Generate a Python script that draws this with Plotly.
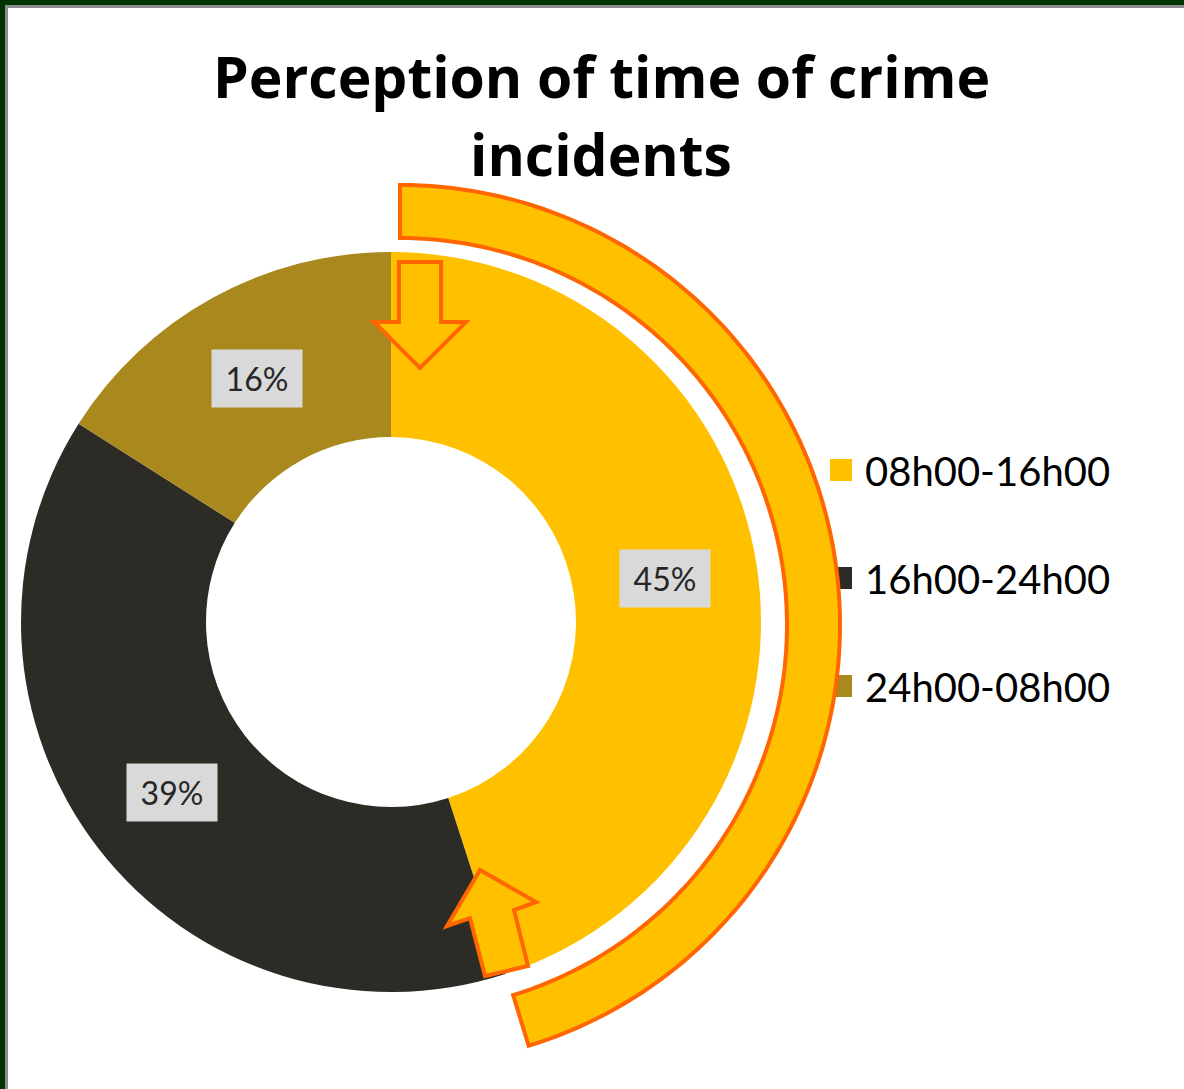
import math
import plotly.graph_objects as go

# ---- data ----
categories = ["08h00-16h00", "16h00-24h00", "24h00-08h00"]
values = [45, 39, 16]
label_text = ["45%", "39%", "16%"]
title_lines = ["Perception of time of crime", "incidents"]

# ---- style / layout constants ----
W, H = 1184, 1089
colors = ["#FFC000", "#2D2B25", "#A9881E"]
FONT = "Lato"
TITLE_FONT = "Open Sans"
PIE_CX, PIE_CY, PIE_R = 391, 622, 370
HOLE = 0.5
ORANGE = "#FF6600"
YELLOW = "#FFC000"


def px(x):
    return x / W


def py(y):
    return 1 - y / H


def path(points):
    s = "M " + " L ".join(f"{px(x):.5f},{py(y):.5f}" for x, y in points) + " Z"
    return s


fig = go.Figure()
fig.add_trace(go.Pie(
    labels=categories,
    values=values,
    sort=False,
    direction="clockwise",
    rotation=0,
    hole=HOLE,
    marker=dict(colors=colors, line=dict(width=0)),
    textinfo="none",
    hoverinfo="label+percent",
    showlegend=False,
    domain=dict(x=[px(PIE_CX - PIE_R), px(PIE_CX + PIE_R)],
                y=[py(PIE_CY + PIE_R), py(PIE_CY - PIE_R)]),
))

shapes = []
# frame (dark green + grey inner line) on top and left
shapes.append(dict(type="rect", xref="paper", yref="paper", x0=0, x1=1, y0=py(0), y1=py(5),
                   fillcolor="#003300", line=dict(width=0), layer="above"))
shapes.append(dict(type="rect", xref="paper", yref="paper", x0=px(5), x1=1, y0=py(5), y1=py(8),
                   fillcolor="#8C8C8C", line=dict(width=0), layer="above"))
shapes.append(dict(type="rect", xref="paper", yref="paper", x0=0, x1=px(5), y0=0, y1=1,
                   fillcolor="#003300", line=dict(width=0), layer="above"))
shapes.append(dict(type="rect", xref="paper", yref="paper", x0=px(5), x1=px(8), y0=0, y1=py(5),
                   fillcolor="#8C8C8C", line=dict(width=0), layer="above"))

# legend swatches (beneath the decorative arc)
LEG_X, LEG_Y0, LEG_DY, SW = 830, 470, 108, 22
for i, c in enumerate(colors):
    yc = LEG_Y0 + i * LEG_DY
    shapes.append(dict(type="rect", xref="paper", yref="paper",
                       x0=px(LEG_X), x1=px(LEG_X + SW), y0=py(yc + SW / 2), y1=py(yc - SW / 2),
                       fillcolor=c, line=dict(width=0), layer="above"))

# decorative arc around the 08h00-16h00 slice
ACX, ACY, R_IN, R_OUT = 400, 625, 387, 440
a_end = 163.0
n = 120
outer = []
inner = []
for k in range(n + 1):
    t = math.radians(a_end * k / n)
    outer.append((ACX + R_OUT * math.sin(t), ACY - R_OUT * math.cos(t)))
    inner.append((ACX + R_IN * math.sin(t), ACY - R_IN * math.cos(t)))
arc_pts = outer + inner[::-1]
shapes.append(dict(type="path", xref="paper", yref="paper", path=path(arc_pts),
                   fillcolor=YELLOW, line=dict(color=ORANGE, width=4), layer="above"))

# down arrow at start
down = [(399, 262), (441, 262), (441, 322), (466, 322), (420, 368), (374, 322), (399, 322)]
shapes.append(dict(type="path", xref="paper", yref="paper", path=path(down),
                   fillcolor=YELLOW, line=dict(color=ORANGE, width=4), layer="above"))
# up arrow at end
up = [(480, 870), (536, 902), (514, 910), (528, 966), (485, 976), (470, 918), (447, 926)]
shapes.append(dict(type="path", xref="paper", yref="paper", path=path(up),
                   fillcolor=YELLOW, line=dict(color=ORANGE, width=4), layer="above"))

annotations = []
# title
annotations.append(dict(text=f"<b>{title_lines[0]}</b>", x=px(601), y=py(76), xref="paper", yref="paper",
                        showarrow=False, xanchor="center", yanchor="middle",
                        font=dict(family=TITLE_FONT, size=57, color="#000000")))
annotations.append(dict(text=f"<b>{title_lines[1]}</b>", x=px(601), y=py(154), xref="paper", yref="paper",
                        showarrow=False, xanchor="center", yanchor="middle",
                        font=dict(family=TITLE_FONT, size=57, color="#000000")))

# data labels at mid-radius of each slice
total = sum(values)
r_mid = PIE_R * (1 + HOLE) / 2
cum = 0
for v, t in zip(values, label_text):
    mid = (cum + v / 2) / total * 2 * math.pi
    cum += v
    lx = PIE_CX + r_mid * math.sin(mid)
    ly = PIE_CY - r_mid * math.cos(mid)
    annotations.append(dict(text=t, x=px(lx), y=py(ly), xref="paper", yref="paper",
                            showarrow=False, xanchor="center", yanchor="middle",
                            width=88, height=55, bgcolor="#D9D9D9",
                            font=dict(family=FONT, size=32, color="#262626")))

# legend labels
for i, cat in enumerate(categories):
    yc = LEG_Y0 + i * LEG_DY
    annotations.append(dict(text=cat, x=px(863), y=py(yc + 1), xref="paper", yref="paper",
                            showarrow=False, xanchor="left", yanchor="middle",
                            font=dict(family=FONT, size=40, color="#000000")))

fig.update_layout(
    width=W, height=H,
    margin=dict(l=0, r=0, t=0, b=0),
    paper_bgcolor="#FFFFFF",
    plot_bgcolor="#FFFFFF",
    shapes=shapes,
    annotations=annotations,
    showlegend=False,
)

fig.write_html("out.html",
               config={"displayModeBar": False},
               post_script="document.body.style.margin='0px';document.body.style.overflow='hidden';")
